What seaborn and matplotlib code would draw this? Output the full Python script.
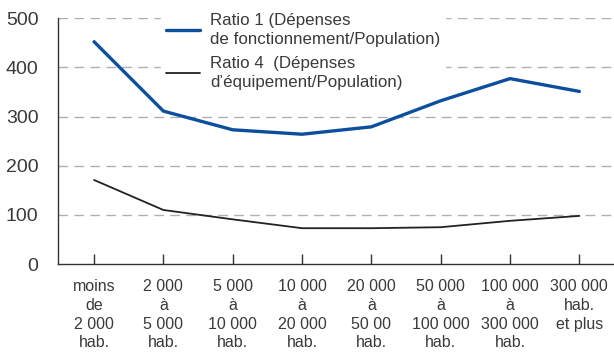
import pandas as pd
import matplotlib.pyplot as plt
import seaborn as sns

categories = ["moins\nde\n2 000\nhab.", "2 000\nà\n5 000\nhab.", "5 000\nà\n10 000\nhab.",
              "10 000\nà\n20 000\nhab.", "20 000\nà\n50 00\nhab.", "50 000\nà\n100 000\nhab.",
              "100 000\nà\n300 000\nhab.", "300 000\nhab.\net plus"]
ratio1 = [452, 311, 273, 264, 279, 332, 377, 351]
ratio4 = [171, 110, 91, 73, 73, 75, 88, 98]
label1 = "Ratio 1 (Dépenses\nde fonctionnement/Population)"
label4 = "Ratio 4  (Dépenses\nd’équipement/Population)"

df = pd.DataFrame({"x": list(range(len(categories))) * 2,
                   "value": ratio1 + ratio4,
                   "serie": [label1] * len(ratio1) + [label4] * len(ratio4)})

sns.set_theme(style="white")
plt.rcParams["font.family"] = ["Liberation Sans", "DejaVu Sans"]
text_col = "#3a3a3a"

fig = plt.figure(figsize=(6.14, 3.55), dpi=100)
ax = fig.add_axes([0.0945, 0.256, 0.9055, 0.693])

sns.lineplot(data=df, x="x", y="value", hue="serie", size="serie",
             palette={label1: "#0b4f9e", label4: "#222222"},
             sizes={label1: 2.4, label4: 1.3}, ax=ax, legend=True)

ax.set_ylim(0, 500)
ax.set_xlim(-0.52, 7.5)
ax.set_yticks([0, 100, 200, 300, 400, 500])
ax.set_xticks(range(len(categories)))
ax.set_xticklabels(categories, fontsize=11.5, color=text_col, linespacing=1.3)
ax.tick_params(axis="y", labelsize=14, colors=text_col, length=0, pad=14)
ax.tick_params(axis="x", direction="in", length=7, width=1, color="#333333", pad=11, bottom=True)
for lab in ax.get_yticklabels():
    lab.set_color(text_col)
ax.set_xlabel("")
ax.set_ylabel("")

for yv in [100, 200, 300, 400, 500]:
    ax.axhline(yv, color="#b0b0b0", lw=1, ls=(0, (7, 4.5)), zorder=0)

sns.despine(ax=ax, top=True, right=True)
ax.spines["left"].set_color("#333333")
ax.spines["bottom"].set_color("#333333")
ax.spines["left"].set_linewidth(1)
ax.spines["bottom"].set_linewidth(1)

leg = ax.legend(loc="upper left", bbox_to_anchor=(0.185, 1.04), frameon=True,
                fontsize=12.2, handlelength=2.0, labelspacing=0.55,
                borderaxespad=0, handletextpad=0.6, borderpad=0.3)
leg.get_frame().set_facecolor("white")
leg.get_frame().set_edgecolor("white")
leg.get_frame().set_alpha(1)
for t in leg.get_texts():
    t.set_color(text_col)
    t.set_linespacing(1.3)

fig.savefig("out.png", dpi=100)
